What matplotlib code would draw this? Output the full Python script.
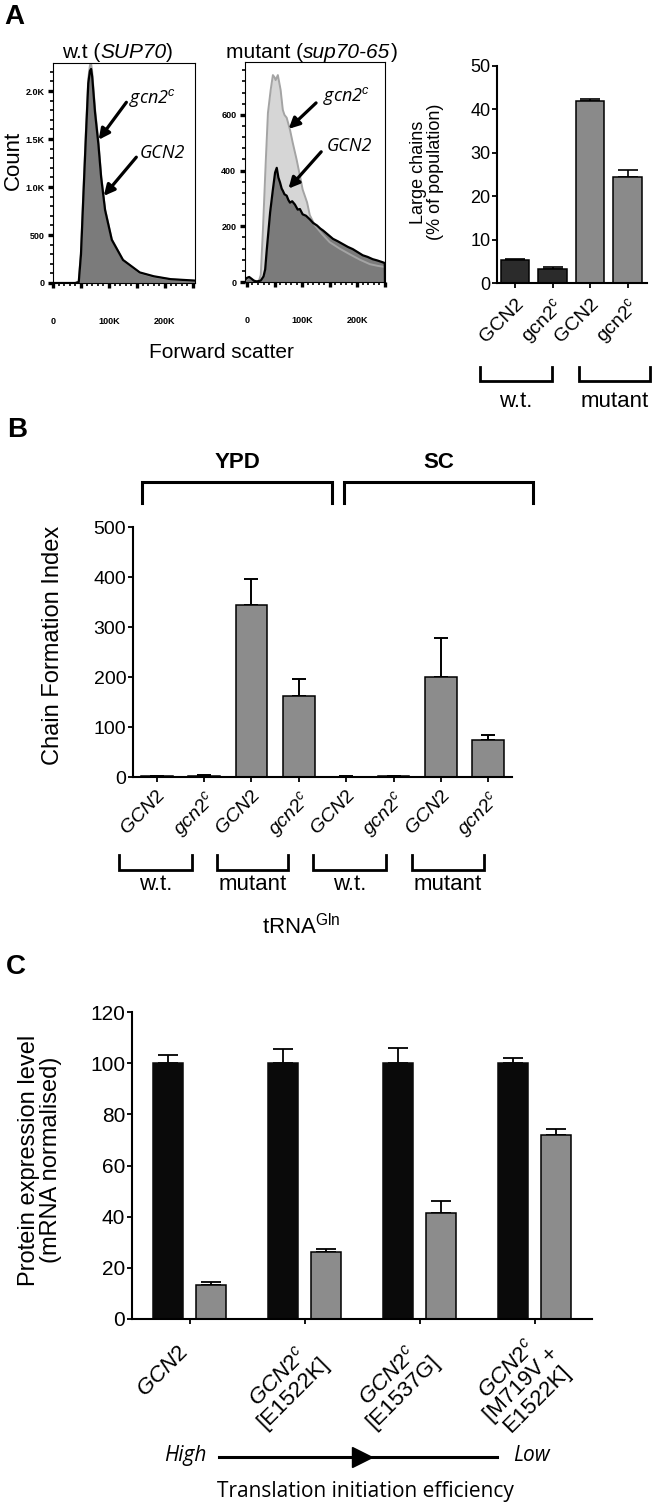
import matplotlib
matplotlib.use("Agg")
import matplotlib.pyplot as plt
import numpy as np
from matplotlib.ticker import MultipleLocator
from matplotlib.transforms import blended_transform_factory

plt.rcParams["font.family"] = ["Liberation Sans", "DejaVu Sans"]
plt.rcParams["mathtext.fontset"] = "custom"
plt.rcParams["mathtext.rm"] = "Liberation Sans"
plt.rcParams["mathtext.it"] = "Liberation Sans:italic"
plt.rcParams["mathtext.bf"] = "Liberation Sans:bold"

# ---------------- data ----------------
# panel A, flow histograms (forward scatter in K, event count)
wt_x = [0, 40, 46, 50, 54, 59, 63, 66, 68, 70, 75, 81, 86, 93, 105, 125, 155, 180, 210, 253]
wt_gcn2 = [0, 0, 10, 300, 870, 1560, 2080, 2210, 2230, 2150, 1780, 1450, 1100, 760, 450, 240, 110, 70, 40, 25]
wt_gcn2c = [0, 0, 15, 330, 920, 1620, 2130, 2270, 2290, 2200, 1820, 1480, 1120, 770, 455, 240, 105, 65, 38, 22]

mut_gcn2_x = [-3.6, 0, 4, 8, 13, 18, 25, 30, 33, 36, 42, 47, 51, 54, 57, 60, 63, 65, 68, 72,
              75, 78, 82, 87, 92, 96, 101, 107, 114, 120, 127, 133, 138, 147, 156, 165, 174,
              183, 192, 201, 210, 219, 228, 237, 246, 250, 250.3]
mut_gcn2 = [8, 15, 18, 12, 4, 2, 5, 20, 45, 118, 250, 332, 393, 410, 375, 357, 335, 328, 315, 310,
            295, 285, 290, 278, 260, 262, 243, 238, 225, 212, 203, 192, 185, 170, 155, 146, 136,
            126, 118, 107, 96, 90, 82, 77, 71, 68, 0]

mut_gcn2c_x = [-3.6, 0, 5, 10, 18, 22, 25, 29, 34, 38, 43, 47, 50, 52, 56, 61, 65, 68, 72, 78,
               83, 90, 96, 101, 109, 114, 123, 135, 150, 168, 186, 205, 223, 237, 250, 250.3]
mut_gcn2c = [6, 12, 14, 8, 2, 6, 25, 190, 430, 607, 690, 743, 735, 725, 743, 690, 618, 600, 590, 547,
             500, 440, 382, 332, 286, 240, 204, 175, 143, 120, 100, 80, 64, 58, 54, 0]

# panel A, large chains (% of population)
a_labels = ["GCN2", "gcn2$^{\\mathrm{c}}$", "GCN2", "gcn2$^{\\mathrm{c}}$"]
a_values = [5.2, 3.3, 42.0, 24.5]
a_err = [0.4, 0.4, 0.5, 1.6]
a_groups = ["w.t.", "mutant"]

# panel B, chain formation index
b_labels = ["$\\mathit{GCN2}$", "$\\mathit{gcn2}^{c}$"] * 4
b_values = [2, 3, 345, 162, 1, 2, 200, 75]
b_err = [0.6, 0.8, 52, 35, 0.4, 0.6, 78, 9]
b_groups = ["w.t.", "mutant", "w.t.", "mutant"]
b_media = ["YPD", "SC"]

# panel C, protein expression level
c_labels = ["$\\mathit{GCN2}$",
            "$\\mathit{GCN2}^{c}$\n[E1522K]",
            "$\\mathit{GCN2}^{c}$\n[E1537G]",
            "$\\mathit{GCN2}^{c}$\n[M719V +\nE1522K]"]
c_gcn2 = [100, 100, 100, 100]
c_gcn2_err = [3, 5.5, 6, 2]
c_mut = [13.3, 26.2, 41.5, 72.1]
c_mut_err = [1.2, 1.3, 4.5, 2.2]

# ---------------- layout helpers ----------------
W, H = 661, 1511
fig = plt.figure(figsize=(W / 100, H / 100), dpi=100)


def px_axes(left, top, right, bottom):
    return fig.add_axes([left / W, 1 - bottom / H, (right - left) / W, (bottom - top) / H])


def px_text(x, y, s, **kw):
    return fig.text(x / W, 1 - y / H, s, **kw)


def bracket(ax, x0, x1, y_leg, y_bar, lw=2.0):
    tr = blended_transform_factory(ax.transData, ax.transAxes)
    ax.plot([x0, x0, x1, x1], [y_leg, y_bar, y_bar, y_leg], color="k", lw=lw,
            transform=tr, clip_on=False, solid_joinstyle="miter")


def blended_text(ax, x, y, s, **kw):
    tr = blended_transform_factory(ax.transData, ax.transAxes)
    ax.text(x, y, s, transform=tr, ha="center", va="center", **kw)


def mixed_title(ax, xmid, y, pre, mid, post, fs=15):
    # upright / italic / upright pieces glued side by side
    t = px_text(xmid, y, mid, fontsize=fs, style="italic", ha="center", va="center")
    ax.annotate(pre, xy=(0, 0), xycoords=t, ha="right", va="bottom", fontsize=fs,
                annotation_clip=False)
    ax.annotate(post, xy=(1, 0), xycoords=t, ha="left", va="bottom", fontsize=fs,
                annotation_clip=False)


def style_hist(ax, xlim, ylim, yticks, ylabels, yminor):
    ax.set_xlim(xlim)
    ax.set_ylim(ylim)
    ax.set_xticks([0, 50, 100, 150, 200, 250])
    ax.set_xticklabels(["0", "", "100K", "", "200K", ""])
    ax.xaxis.set_minor_locator(MultipleLocator(10))
    ax.set_yticks(yticks)
    ax.set_yticklabels(ylabels)
    ax.yaxis.set_minor_locator(MultipleLocator(yminor))
    ax.tick_params(which="major", length=3.8, width=2.4)
    ax.tick_params(which="minor", length=2.2, width=1.2)
    ax.tick_params(axis="x", which="major", pad=21)
    ax.tick_params(axis="y", which="major", pad=2.5)
    for lbl in ax.get_xticklabels() + ax.get_yticklabels():
        lbl.set_fontsize(6.5)
        lbl.set_fontweight("bold")
    for sp in ax.spines.values():
        sp.set_linewidth(0.8)


def style_bars(ax, labelsize):
    ax.spines["top"].set_visible(False)
    ax.spines["right"].set_visible(False)
    ax.spines["left"].set_linewidth(1.5)
    ax.spines["bottom"].set_linewidth(1.5)
    ax.tick_params(length=3.8, width=1.3, labelsize=labelsize, pad=1)


def up_errors(ax, x, vals, err, capsize, lw=1.2):
    ax.errorbar(x, vals, yerr=[np.zeros(len(err)), err], fmt="none", ecolor="k",
                elinewidth=lw, capsize=capsize, capthick=lw, zorder=1)


arrow_kw = dict(arrowstyle="-|>", lw=2.3, color="k", mutation_scale=16)

# ---------------- panel A: histograms ----------------
light_face, light_edge = "#d6d6d6", "#a4a4a4"
dark_face = "#7b7b7b"

ax1 = px_axes(53, 63, 195, 283)
ax1.fill_between(wt_x, wt_gcn2c, color=light_face, lw=0)
ax1.fill_between(wt_x, wt_gcn2, color=dark_face, lw=0)
ax1.plot(wt_x, wt_gcn2c, color=light_edge, lw=1.4)
ax1.plot(wt_x, wt_gcn2, color="k", lw=1.6)
style_hist(ax1, (0, 253.6), (0, 2292), [0, 500, 1000, 1500, 2000],
           ["0", "500", "1.0K", "1.5K", "2.0K"], 100)
ax1.annotate("", xy=(78.6, 1469), xytext=(134, 1906), arrowprops=arrow_kw)
ax1.annotate("", xy=(87.5, 885), xytext=(152, 1333), arrowprops=arrow_kw)
ax1.text(136, 1930, "gcn2$^{c}$", fontsize=13, family="Open Sans", style="italic", va="center")
ax1.text(155, 1350, "GCN2", fontsize=13, family="Open Sans", style="italic", va="center")

ax2 = px_axes(245, 62, 385, 282)
ax2.fill_between(mut_gcn2c_x, mut_gcn2c, color=light_face, lw=0)
ax2.fill_between(mut_gcn2_x, mut_gcn2, color=dark_face, lw=0)
ax2.plot(mut_gcn2c_x, mut_gcn2c, color=light_edge, lw=1.4)
ax2.plot(mut_gcn2_x, mut_gcn2, color="k", lw=1.6)
style_hist(ax2, (-3.6, 250.4), (0, 790), [0, 200, 400, 600], ["0", "200", "400", "600"], 40)
ax2.annotate("", xy=(72, 543), xytext=(129, 650), arrowprops=arrow_kw)
ax2.annotate("", xy=(72, 328), xytext=(138, 475), arrowprops=arrow_kw)
ax2.text(138, 668, "gcn2$^{c}$", fontsize=13, family="Open Sans", style="italic", va="center")
ax2.text(145, 487, "GCN2", fontsize=13, family="Open Sans", style="italic", va="center")

mixed_title(ax1, 133, 53, "w.t (", "SUP70", ")")
mixed_title(ax2, 347, 53, "mutant (", "sup70-65", ")")
px_text(13, 160, "Count", fontsize=16, rotation=90, ha="center", va="center")
px_text(221, 352, "Forward scatter", fontsize=15, ha="center", va="center")

# ---------------- panel A: bars ----------------
axa = px_axes(497, 66, 647, 283)
xa = np.arange(len(a_values))
a_colors = ["#2b2b2b", "#2b2b2b", "#8a8a8a", "#8a8a8a"]
axa.bar(xa, a_values, width=0.75, color=a_colors, edgecolor="k", lw=1.1, zorder=2)
up_errors(axa, xa, a_values, a_err, capsize=7)
axa.set_xlim(-0.48, 3.52)
axa.set_ylim(0, 50)
axa.set_yticks(range(0, 51, 10))
axa.set_xticks(xa)
axa.set_xticklabels(a_labels, rotation=45, ha="right", rotation_mode="anchor")
style_bars(axa, 13)
axa.tick_params(axis="x", labelsize=14, pad=5)
for (x0, x1), name in zip([(-0.93, 0.99), (1.71, 3.6)], a_groups):
    bracket(axa, x0, x1, -0.387, -0.452)
    blended_text(axa, (x0 + x1) / 2, -0.548, name, fontsize=16)
px_text(427, 172, "Large chains\n(% of population)", fontsize=13, rotation=90,
        ha="center", va="center", linespacing=0.95)

# ---------------- panel B ----------------
axb = px_axes(133, 527, 512, 777)
xb = np.arange(len(b_values))
axb.bar(xb, b_values, width=0.67, color="#8c8c8c", edgecolor="k", lw=1.1, zorder=2)
up_errors(axb, xb, b_values, b_err, capsize=4.7, lw=1.4)
axb.set_xlim(-0.5, 7.5)
axb.set_ylim(0, 500)
axb.set_yticks(range(0, 501, 100))
axb.set_xticks(xb)
axb.set_xticklabels(b_labels, rotation=45, ha="right", rotation_mode="anchor")
style_bars(axb, 14)
axb.tick_params(axis="x", labelsize=14, pad=4)
for (x0, x1), name in zip([(-0.8, 0.74), (1.27, 2.78), (3.31, 4.85), (5.38, 6.9)], b_groups):
    bracket(axb, x0, x1, -0.312, -0.372)
    blended_text(axb, (x0 + x1) / 2, -0.432, name, fontsize=16)
for (x0, x1), name in zip([(-0.3, 3.69), (3.95, 7.95)], b_media):
    bracket(axb, x0, x1, 1.096, 1.18, lw=2.2)
    blended_text(axb, (x0 + x1) / 2, 1.256, name, fontsize=16, fontweight="bold")
blended_text(axb, 3.06, -0.6, "tRNA$^{\\mathrm{Gln}}$", fontsize=16)
px_text(53, 645, "Chain Formation Index", fontsize=17, rotation=90, ha="center", va="center")

# ---------------- panel C ----------------
axc = px_axes(132, 1012, 592, 1319)
xc = np.arange(len(c_gcn2))
axc.bar(xc - 0.19, c_gcn2, width=0.26, color="#0a0a0a", edgecolor="#0a0a0a", lw=1.1, zorder=2)
axc.bar(xc + 0.19, c_mut, width=0.26, color="#8c8c8c", edgecolor="k", lw=1.1, zorder=2)
up_errors(axc, xc - 0.19, c_gcn2, c_gcn2_err, capsize=7.5, lw=1.3)
up_errors(axc, xc + 0.19, c_mut, c_mut_err, capsize=7.5, lw=1.3)
axc.set_xlim(-0.5, 3.5)
axc.set_ylim(0, 120)
axc.set_yticks(range(0, 121, 20))
axc.set_xticks(xc)
axc.set_xticklabels([])
style_bars(axc, 15)
trc = blended_transform_factory(axc.transData, axc.transAxes)
for g, (lbl, dx, dy) in enumerate(zip(c_labels, [-0.234, -0.167, -0.205, -0.112],
                                      [-0.17, -0.215, -0.212, -0.212])):
    axc.text(g + dx, dy, lbl, transform=trc, rotation=45, rotation_mode="anchor",
             ha="center", va="center", multialignment="center", fontsize=16, linespacing=1.0)

axc.plot([0.26, 2.67], [-0.4495, -0.4495], transform=trc, clip_on=False, color="k", lw=2.2)
axc.plot([1.5], [-0.4495], transform=trc, clip_on=False, marker=">", color="k", markersize=14)
blended_text(axc, -0.04, -0.443, "High", fontsize=15, family="Open Sans", style="italic")
blended_text(axc, 2.975, -0.443, "Low", fontsize=15, family="Open Sans", style="italic")
blended_text(axc, 1.527, -0.5635, "Translation initiation efficiency", fontsize=15, family="Open Sans")
px_text(40, 1160, "Protein expression level\n(mRNA normalised)", fontsize=17, rotation=90,
        ha="center", va="center", linespacing=1.0)

# ---------------- panel letters ----------------
px_text(14, 17, "A", fontsize=20, fontweight="bold", ha="center", va="center")
px_text(17, 430, "B", fontsize=20, fontweight="bold", ha="center", va="center")
px_text(16, 967, "C", fontsize=20, fontweight="bold", ha="center", va="center")

fig.savefig("out.png", dpi=100)
